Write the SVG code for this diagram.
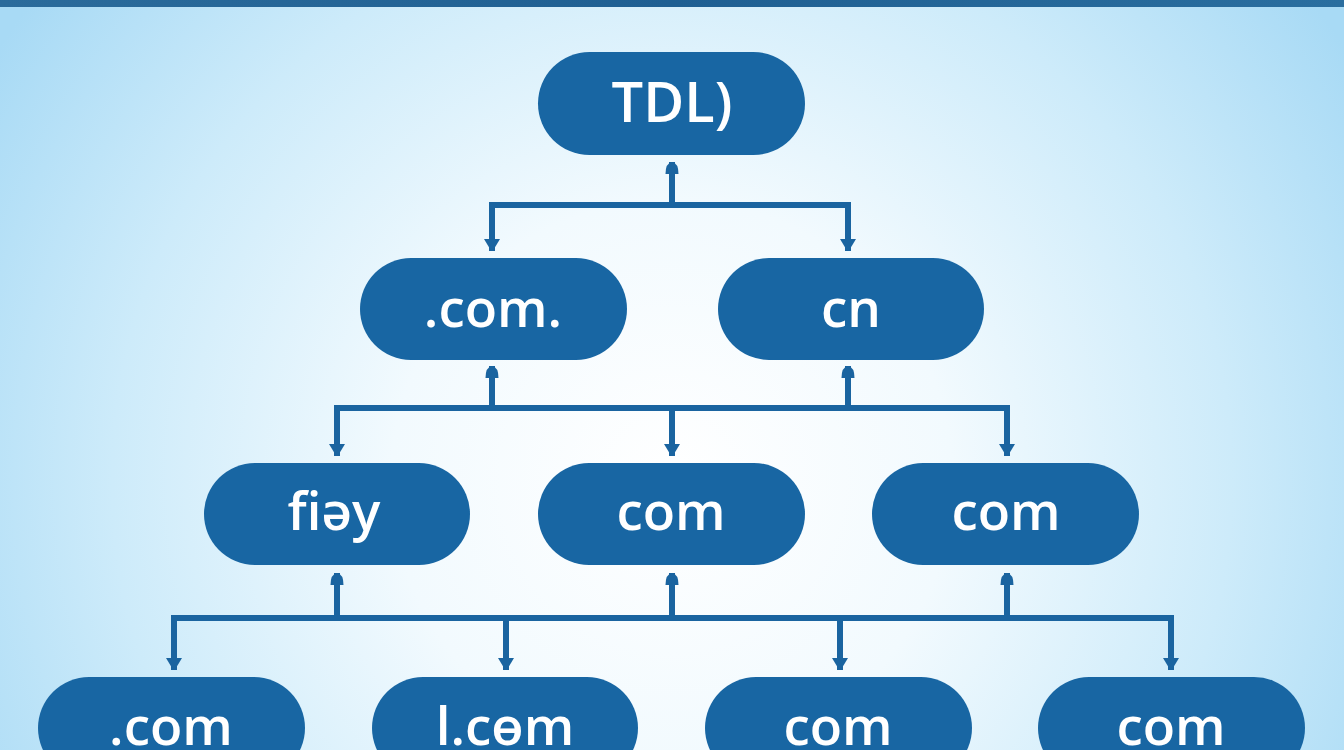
<svg xmlns="http://www.w3.org/2000/svg" width="1344" height="750" viewBox="0 0 1344 750">
<defs>
<radialGradient id="bg" gradientUnits="userSpaceOnUse" cx="672" cy="480" r="800">
<stop offset="0" stop-color="#ffffff"/>
<stop offset="0.35" stop-color="#f2fafe"/>
<stop offset="0.7" stop-color="#cdebfa"/>
<stop offset="1" stop-color="#a8daf5"/>
</radialGradient>
<linearGradient id="bar" x1="0" y1="0" x2="1" y2="0">
<stop offset="0" stop-color="#2b6b9b"/>
<stop offset="0.5" stop-color="#1f5f92"/>
<stop offset="1" stop-color="#2a6e9f"/>
</linearGradient>
<marker id="down" markerUnits="userSpaceOnUse" markerWidth="18" markerHeight="14" viewBox="0 0 18 14" refX="9" refY="13" orient="0">
<path d="M1 1 L17 1 L10.2 12.2 Q9 13.8 7.8 12.2 Z" fill="#1a64a0"/>
</marker>
<marker id="up" markerUnits="userSpaceOnUse" markerWidth="16" markerHeight="14" viewBox="0 0 16 14" refX="8" refY="1" orient="0">
<path d="M1.5 13 Q1.5 2 8 1 Q14.5 2 14.5 13 Z" fill="#1a64a0"/>
</marker>
</defs>
<style>
.node rect{fill:#1866a3;}
.node text{fill:#ffffff;font-family:"Open Sans","DejaVu Sans",sans-serif;font-weight:600;font-size:53px;text-anchor:middle;}
.wire{fill:none;stroke:#1a64a0;stroke-width:6;}
.dn{fill:none;stroke:#1a64a0;stroke-width:6;marker-end:url(#down);}
.upl{fill:none;stroke:#1a64a0;stroke-width:6;marker-end:url(#up);}
</style>
<rect x="0" y="0" width="1344" height="750" fill="url(#bg)"/>
<rect x="0" y="0" width="1344" height="7" fill="url(#bar)"/>

<g id="connectors">
<path class="upl" d="M672 205 V162"/>
<path class="wire" d="M489 205 H851"/>
<path class="dn" d="M492 202 V251"/>
<path class="dn" d="M848 202 V251"/>

<path class="upl" d="M492 408 V366"/>
<path class="upl" d="M848 408 V366"/>
<path class="wire" d="M334 408 H1010"/>
<path class="dn" d="M337 405 V456"/>
<path class="dn" d="M672 405 V456"/>
<path class="dn" d="M1007 405 V456"/>

<path class="upl" d="M337 618 V573"/>
<path class="upl" d="M672 618 V573"/>
<path class="upl" d="M1007 618 V573"/>
<path class="wire" d="M171 618 H1174"/>
<path class="dn" d="M174 615 V670"/>
<path class="dn" d="M506 615 V670"/>
<path class="dn" d="M840 615 V670"/>
<path class="dn" d="M1171 615 V670"/>
</g>

<g id="n-tdl" class="node"><rect x="538" y="52" width="267" height="103" rx="51.5"/><text x="672" y="122" style="font-size:56px">TDL)</text></g>

<g id="n-com1" class="node"><rect x="360" y="258" width="267" height="102" rx="51"/><text x="493" y="327">.com.</text></g>
<g id="n-cn" class="node"><rect x="718" y="258" width="266" height="102" rx="51"/><text x="851" y="327">cn</text></g>

<g id="n-fiay" class="node"><rect x="204" y="463" width="266" height="102" rx="51"/><text x="334" y="530">fiəy</text></g>
<g id="n-com2" class="node"><rect x="538" y="463" width="267" height="102" rx="51"/><text x="671" y="530">com</text></g>
<g id="n-com3" class="node"><rect x="872" y="463" width="267" height="102" rx="51"/><text x="1006" y="530">com</text></g>

<g id="n-com4" class="node"><rect x="38" y="677" width="267" height="102" rx="51"/><text x="171" y="745">.com</text></g>
<g id="n-lcom" class="node"><rect x="372" y="677" width="266" height="102" rx="51"/><text x="505" y="745">l.cөm</text></g>
<g id="n-com5" class="node"><rect x="705" y="677" width="267" height="102" rx="51"/><text x="838" y="745">com</text></g>
<g id="n-com6" class="node"><rect x="1038" y="677" width="267" height="102" rx="51"/><text x="1171" y="745">com</text></g>
</svg>
